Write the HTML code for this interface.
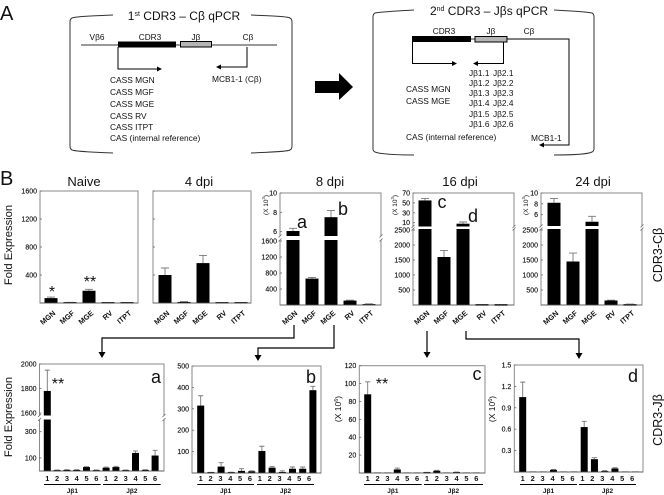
<!DOCTYPE html>
<html>
<head>
<meta charset="utf-8">
<title>CDR3 qPCR figure</title>
<style>
html,body{margin:0;padding:0;background:#fff;}
svg{display:block;filter:blur(0.35px);}
text{font-family:"Liberation Sans",sans-serif;fill:#111;}
.tk{stroke:#111;stroke-width:0.15;}
</style>
</head>
<body>
<svg id="fig" xmlns="http://www.w3.org/2000/svg" width="664" height="495" viewBox="0 0 664 495">
<defs>
<marker id="ah" markerWidth="6" markerHeight="6" refX="4" refY="2.5" orient="auto" markerUnits="userSpaceOnUse"><path d="M0,0 L5,2.5 L0,5 Z" fill="#000"/></marker>
<marker id="ah2" markerWidth="8" markerHeight="8" refX="5" refY="3.5" orient="auto" markerUnits="userSpaceOnUse"><path d="M0,0 L6,3.5 L0,7 Z" fill="#000"/></marker>
</defs>
<rect width="664" height="495" fill="#fff"/>

<text x="0" y="20" font-size="20">A</text>
<text x="0" y="185" font-size="20">B</text>

<g>
  <path d="M113,15 C95,16 78,16 72,18 Q70,19 70,22 L70,146 Q70,149 72,150 C78,152 95,152 113,153" fill="none" stroke="#333" stroke-width="1"/>
  <path d="M251,15 C269,16 286,16 290,18 Q292,19 292,22 L292,146 Q292,149 290,150 C286,152 269,152 251,153" fill="none" stroke="#333" stroke-width="1"/>
  <text x="184" y="20" font-size="12" text-anchor="middle">1<tspan font-size="7" dy="-4">st</tspan><tspan dy="4"> CDR3 – Cβ qPCR</tspan></text>
  <line x1="81" y1="45" x2="277" y2="45" stroke="#333" stroke-width="1"/>
  <rect x="118" y="41.5" width="58" height="6" fill="#000"/>
  <rect x="180.5" y="41.5" width="31" height="5.5" fill="#b5b5b5" stroke="#000" stroke-width="1"/>
  <g font-size="8.3" text-anchor="middle">
    <text x="97" y="40">Vβ6</text>
    <text x="150" y="40">CDR3</text>
    <text x="196" y="40">Jβ</text>
    <text x="248" y="40">Cβ</text>
  </g>
  <path d="M118,47 L118,69 L161,69" fill="none" stroke="#000" stroke-width="1" marker-end="url(#ah)"/>
  <path d="M247,47 L247,67 L217,67" fill="none" stroke="#000" stroke-width="1" marker-end="url(#ah)"/>
  <g font-size="8.4">
    <text x="110" y="83">CASS MGN</text>
    <text x="110" y="95">CASS MGF</text>
    <text x="110" y="107">CASS MGE</text>
    <text x="110" y="119">CASS RV</text>
    <text x="110" y="130">CASS ITPT</text>
    <text x="110" y="141">CAS (internal reference)</text>
    <text x="212" y="82">MCB1-1 (Cβ)</text>
  </g>
</g>

<path d="M315,81 L339,81 L339,73 L353,87 L339,100 L339,93 L315,93 Z" fill="#000"/>

<g>
  <path d="M414,10 C396,11 380,12 375,13 Q373,14 373,17 L373,149 Q373,151 375,152 C380,154 396,155 414,155" fill="none" stroke="#333" stroke-width="1"/>
  <path d="M554,10 C572,11 588,12 592,13 Q594,14 594,17 L594,149 Q594,151 592,152 C588,154 572,155 554,155" fill="none" stroke="#333" stroke-width="1"/>
  <text x="489" y="15" font-size="12" text-anchor="middle">2<tspan font-size="7" dy="-4">nd</tspan><tspan dy="4"> CDR3 – Jβs qPCR</tspan></text>
  <rect x="412" y="36" width="59" height="6" fill="#000"/>
  <line x1="471" y1="39" x2="475" y2="39" stroke="#333"/>
  <rect x="475" y="36.5" width="32" height="5.5" fill="#b5b5b5" stroke="#000" stroke-width="1"/>
  <g font-size="8.3" text-anchor="middle">
    <text x="444" y="34">CDR3</text>
    <text x="491" y="34">Jβ</text>
    <text x="529" y="34">Cβ</text>
  </g>
  <path d="M507,39 L569,39 L569,145 L540,145" fill="none" stroke="#000" stroke-width="1" marker-end="url(#ah)"/>
  <path d="M412.5,42 L412.5,63.5 L456,63.5" fill="none" stroke="#000" stroke-width="1" marker-end="url(#ah)"/>
  <path d="M503.5,42 L503.5,63.5 L474,63.5" fill="none" stroke="#000" stroke-width="1" marker-end="url(#ah)"/>
  <g font-size="8.3">
    <text x="469" y="76">Jβ1.1</text><text x="493" y="76">Jβ2.1</text>
    <text x="469" y="86">Jβ1.2</text><text x="493" y="86">Jβ2.2</text>
    <text x="469" y="96">Jβ1.3</text><text x="493" y="96">Jβ2.3</text>
    <text x="469" y="106">Jβ1.4</text><text x="493" y="106">Jβ2.4</text>
    <text x="469" y="117">Jβ1.5</text><text x="493" y="117">Jβ2.5</text>
    <text x="469" y="127">Jβ1.6</text><text x="493" y="127">Jβ2.6</text>
  </g>
  <g font-size="8.4">
    <text x="406" y="92">CASS MGN</text>
    <text x="406" y="104">CASS MGE</text>
    <text x="406" y="140">CAS (internal reference)</text>
    <text x="531" y="141">MCB1-1</text>
  </g>
</g>

<g font-size="13" text-anchor="middle">
  <text x="84" y="186">Naive</text>
  <text x="199" y="186">4 dpi</text>
  <text x="330" y="186">8 dpi</text>
  <text x="460" y="186">16 dpi</text>
  <text x="593" y="186">24 dpi</text>
</g>
<text transform="translate(12,245) rotate(-90)" font-size="11.2" text-anchor="middle">Fold Expression</text>
<text transform="translate(12,417) rotate(-90)" font-size="11.2" text-anchor="middle">Fold Expression</text>
<text transform="translate(662,255) rotate(-90)" font-size="12.5" text-anchor="middle">CDR3-Cβ</text>
<text transform="translate(662,420) rotate(-90)" font-size="12.5" text-anchor="middle">CDR3-Jβ</text>

<g fill="none" stroke="#000" stroke-width="1.2">
  <path d="M294,325 L294,338 L102,338 L102,357" marker-end="url(#ah2)"/>
  <path d="M334,325 L334,348 L258,348 L258,360" marker-end="url(#ah2)"/>
  <path d="M427,331 L427,357" marker-end="url(#ah2)"/>
  <path d="M466,331 L466,339 L579,339 L579,358" marker-end="url(#ah2)"/>
</g>

<g id="charts"></g>

<g font-size="18" text-anchor="middle">
  <text x="302" y="228">a</text>
  <text x="343" y="215">b</text>
  <text x="442" y="208">c</text>
  <text x="473" y="222">d</text>
  <text x="156" y="383">a</text>
  <text x="311" y="383">b</text>
  <text x="477" y="380">c</text>
  <text x="633" y="382">d</text>
</g>
<g font-size="16" text-anchor="middle" fill="#333">
  <text x="52" y="297">*</text>
  <text x="90" y="287">**</text>
  <text x="58" y="389">**</text>
  <text x="382" y="389">**</text>
</g>

<script>
var categories = ['MGN', 'MGF', 'MGE', 'RV', 'ITPT'];
var jLabels = ['1', '2', '3', '4', '5', '6', '1', '2', '3', '4', '5', '6'];

var naiveValues = [70, 8, 175, 5, 5];
var naiveErrors = [85, 10, 195, 6, 6];
var dpi4Values = [400, 15, 570, 5, 5];
var dpi4Errors = [500, 20, 680, 6, 6];
var dpi8Values = [6070, 660, 7500, 110, 15];
var dpi8Errors = [6350, 690, 8200, 120, 30];
var dpi16Values = [55000, 1600, 8000, 5, 3];
var dpi16Errors = [59000, 1820, 11400, 15, 5];
var dpi24Values = [8200, 1450, 4700, 150, 5];
var dpi24Errors = [9000, 1730, 5700, 160, 30];

var lowerAValues = [1780, 5, 8, 8, 30, 5, 25, 30, 5, 138, 8, 118];
var lowerAErrors = [1950, 8, 10, 10, 33, 8, 30, 36, 8, 153, 10, 158];
var lowerBValues = [315, 2, 30, 2, 10, 8, 103, 25, 5, 20, 20, 387];
var lowerBErrors = [361, 3, 48, 4, 20, 10, 125, 30, 10, 28, 28, 405];
var lowerCValues = [88, 0, 0, 4, 0, 0, 0.5, 2.5, 0, 0.8, 0, 0];
var lowerCErrors = [102, 0, 0, 5.5, 0, 0, 0.7, 3, 0, 1, 0, 0];
var lowerDValues = [1.05, 0, 0, 0.03, 0, 0, 0.63, 0.18, 0.01, 0.05, 0, 0];
var lowerDErrors = [1.26, 0, 0, 0.035, 0, 0, 0.71, 0.2, 0.02, 0.06, 0, 0];

var ticksPlain = [400, 800, 1200, 1600];
var ticksPlainLabels = ['400', '800', '1200', '1600'];
var ticks8 = [400, 800, 1200, 1600, 6000, 8000, 10000];
var ticks8Labels = ['400', '800', '1200', '1600', '6', '8', '10'];
var ticks16 = [500, 1000, 1500, 2000, 2500, 10000, 30000, 50000, 70000];
var ticks16Labels = ['500', '1000', '1500', '2000', '2500', '10', '30', '50', '70'];
var ticks24 = [500, 1000, 1500, 2000, 2500, 6000, 8000, 10000];
var ticks24Labels = ['500', '1000', '1500', '2000', '2500', '6', '8', '10'];
var ticksA = [100, 300, 1600, 1800, 2000];
var ticksALabels = ['100', '300', '1600', '1800', '2000'];
var ticksB = [100, 200, 300, 400, 500];
var ticksBLabels = ['100', '200', '300', '400', '500'];
var ticksC = [20, 40, 60, 80, 100, 120];
var ticksCLabels = ['20', '40', '60', '80', '100', '120'];
var ticksD = [0.3, 0.6, 0.9, 1.2, 1.5];
var ticksDLabels = ['0.3', '0.6', '0.9', '1.2', '1.5'];

var NS = 'http://www.w3.org/2000/svg';
var root = document.getElementById('charts');

function add(parent, tag, attrs) {
  var el = document.createElementNS(NS, tag);
  for (var k in attrs) el.setAttribute(k, attrs[k]);
  parent.appendChild(el);
  return el;
}
function seg(v0, p0, v1, p1, lo, hi) {
  var k = (p1 - p0) / (v1 - v0);
  return {
    map: function (v) { return p0 + (v - v0) * k; },
    inv: function (p) { return v0 + (p - p0) / k; },
    lo: lo, hi: hi
  };
}
function axisY(segs, v) {
  for (var i = 0; i < segs.length; i++) {
    if (i === segs.length - 1 || v <= segs[i].inv(segs[i].hi)) return segs[i].map(v);
  }
}
function drawPanel(name, o) {
  var g = add(root, 'g', {});
  
  
  var top = o.segs[o.segs.length - 1].hi;
  var bottom = o.segs[0].lo;

  var frame = add(g, 'rect', { x: o.left, y: top, width: o.right - o.left, height: bottom - top, fill: 'none', stroke: '#8a8a8a', 'stroke-width': 1 });
  
  

  if (o.segs.length > 1) {
    var gapLo = o.segs[0].hi, gapHi = o.segs[1].lo;
    [o.left, o.right].forEach(function (sx) {
      var wipe = add(g, 'rect', { x: sx - 1, y: gapHi, width: 2, height: gapLo - gapHi, fill: '#fff' });
      
      
      [gapHi, gapLo].forEach(function (by) {
        var slash = add(g, 'line', { x1: sx - 1.5, y1: by + 1.5, x2: sx + 1.5, y2: by - 1.5, stroke: '#666', 'stroke-width': 0.8 });
        
        
      });
    });
  }

  o.ticks.forEach(function (t, i) {
    var py = axisY(o.segs, t);
    var tick = add(g, 'line', { x1: o.left, y1: py, x2: o.left + 2, y2: py, stroke: '#666', 'stroke-width': 0.8 });
    
    
    if (o.noTickLabels) return;
    var lab = add(g, 'text', { x: o.left - 3, y: py + 2.5, 'font-size': o.tickFont || 7, 'text-anchor': 'end', 'class': 'tk' });
    lab.textContent = o.tickLabels[i];
    
    
  });

  o.values.forEach(function (v, i) {
    var cx = o.x0 + o.step * i;
    var e = o.errors[i];
    if (e > v) {
      var ey = axisY(o.segs, e), ty = axisY(o.segs, v);
      var whisk = add(g, 'path', { d: 'M' + cx + ',' + ty + ' L' + cx + ',' + ey + ' M' + (cx - o.cap) + ',' + ey + ' L' + (cx + o.cap) + ',' + ey, stroke: '#777', 'stroke-width': 0.9, fill: 'none' });
      
      
    }
    o.segs.forEach(function (s) {
      if (v <= s.inv(s.lo)) return;
      var y1 = Math.max(s.map(v), s.hi);
      var bar = add(g, 'rect', { x: cx - o.barW / 2, y: y1, width: o.barW, height: Math.max(s.lo - y1, 0.8), fill: '#000' });
      
      
    });
    if (v === 0 || v < o.segs[0].inv(o.segs[0].lo - 1)) {
      var stub = add(g, 'rect', { x: cx - o.barW / 2, y: bottom - 1, width: o.barW, height: 1, fill: v === 0 ? '#bbb' : '#222' });
      
      
    }
  });

  var base = add(g, 'line', { x1: o.left, y1: bottom, x2: o.right, y2: bottom, stroke: '#555', 'stroke-width': 0.8 });
  
  

  if (o.cats) {
    o.cats.forEach(function (c, i) {
      var cx = o.x0 + o.step * i;
      var lab = add(g, 'text', { transform: 'translate(' + (cx + 5) + ',314) rotate(-40)', 'font-size': 7.4, 'font-weight': 'bold', 'text-anchor': 'end' });
      lab.textContent = c;
      
      
    });
  }
  if (o.jx0 !== undefined) {
    jLabels.forEach(function (c, i) {
      var lab = add(g, 'text', { x: o.jx0 + o.jStep * i, y: 481, 'font-size': 7.4, 'font-weight': 'bold', 'text-anchor': 'middle' });
      lab.textContent = c;
      
      
    });
    o.groups.forEach(function (r, i) {
      var ul = add(g, 'line', { x1: r[0], y1: 484.5, x2: r[1], y2: 484.5, stroke: '#000', 'stroke-width': 1 });
      
      
      var gl = add(g, 'text', { x: (r[0] + r[1]) / 2, y: 493, 'font-size': 6.5, 'font-weight': 'bold', 'text-anchor': 'middle' });
      gl.textContent = i === 0 ? 'Jβ1' : 'Jβ2';
      
      
    });
  }
  if (o.unit) {
    var u = add(g, 'text', { transform: 'translate(' + o.unit[0] + ',' + o.unit[1] + ') rotate(-90)', 'font-size': o.unit[3], 'text-anchor': 'middle' });
    
    
    u.appendChild(document.createTextNode('(X 10'));
    var sup = add(u, 'tspan', { dy: -3, 'font-size': o.unit[3] * 0.65 });
    sup.textContent = o.unit[2];
    var close = add(u, 'tspan', { dy: 3 });
    close.textContent = ')';
  }
}

drawPanel('chart-naive', {
  left: 40, right: 138, segs: [seg(0, 303, 1600, 191, 303, 191)],
  x0: 51, step: 19, barW: 13, cap: 4, cats: categories,
  values: naiveValues, errors: naiveErrors, ticks: ticksPlain, tickLabels: ticksPlainLabels
});
drawPanel('chart-4-dpi', {
  left: 153, right: 251, segs: [seg(0, 303, 1600, 191, 303, 191)],
  x0: 165, step: 19, barW: 13, cap: 4, cats: categories, noTickLabels: true,
  values: dpi4Values, errors: dpi4Errors, ticks: ticksPlain, tickLabels: ticksPlainLabels
});
drawPanel('chart-8-dpi', {
  left: 280, right: 381,
  segs: [seg(0, 305, 1600, 241, 305, 240), seg(6000, 231.7, 10000, 193, 236, 193)],
  x0: 293, step: 19, barW: 13, cap: 4, cats: categories, unit: [268, 205, '3', 6.5],
  values: dpi8Values, errors: dpi8Errors, ticks: ticks8, tickLabels: ticks8Labels
});
drawPanel('chart-16-dpi', {
  left: 413, right: 514,
  segs: [seg(0, 305, 2500, 230, 305, 229), seg(10000, 222.7, 70000, 193, 226.5, 193)],
  x0: 425, step: 19, barW: 13, cap: 4, cats: categories, unit: [397, 205, '3', 6.5],
  values: dpi16Values, errors: dpi16Errors, ticks: ticks16, tickLabels: ticks16Labels
});
drawPanel('chart-24-dpi', {
  left: 541, right: 642,
  segs: [seg(0, 305, 2500, 230, 305, 229), seg(6000, 214.7, 10000, 193, 226, 193)],
  x0: 554, step: 19, barW: 13, cap: 4, cats: categories, unit: [528, 205, '3', 6.5],
  values: dpi24Values, errors: dpi24Errors, ticks: ticks24, tickLabels: ticks24Labels
});
drawPanel('chart-lower-a', {
  left: 39.5, right: 164,
  segs: [seg(0, 471, 300, 431.7, 471, 419.5), seg(1600, 413, 2000, 364, 415.5, 364)],
  x0: 47.3, step: 9.8, barW: 7, cap: 2.5, jx0: 47.3, jStep: 9.8,
  groups: [[44, 100.7], [103, 160.7]],
  values: lowerAValues, errors: lowerAErrors, ticks: ticksA, tickLabels: ticksALabels
});
drawPanel('chart-lower-b', {
  left: 192, right: 321,
  segs: [seg(0, 473, 500, 366, 473, 366)],
  x0: 200.7, step: 10.2, barW: 7, cap: 2.5, jx0: 200.7, jStep: 9.85,
  groups: [[197.3, 254], [257, 314]],
  values: lowerBValues, errors: lowerBErrors, ticks: ticksB, tickLabels: ticksBLabels
});
drawPanel('chart-lower-c', {
  left: 359.3, right: 485,
  segs: [seg(0, 473, 120, 365.7, 473, 365.7)],
  x0: 367.7, step: 9.87, barW: 7, cap: 2.5, jx0: 367.7, jStep: 9.87,
  groups: [[364, 421.7], [424, 483]], unit: [341, 409, '6', 8.5],
  values: lowerCValues, errors: lowerCErrors, ticks: ticksC, tickLabels: ticksCLabels
});
drawPanel('chart-lower-d', {
  left: 514.3, right: 643,
  segs: [seg(0, 472, 1.5, 365, 472, 365)],
  x0: 522.7, step: 10.25, barW: 7, cap: 2.5, jx0: 522.7, jStep: 9.95,
  groups: [[520, 577], [579, 636]], unit: [495, 409, '6', 8.5],
  values: lowerDValues, errors: lowerDErrors, ticks: ticksD, tickLabels: ticksDLabels
});
</script>
</svg>
</body>
</html>
